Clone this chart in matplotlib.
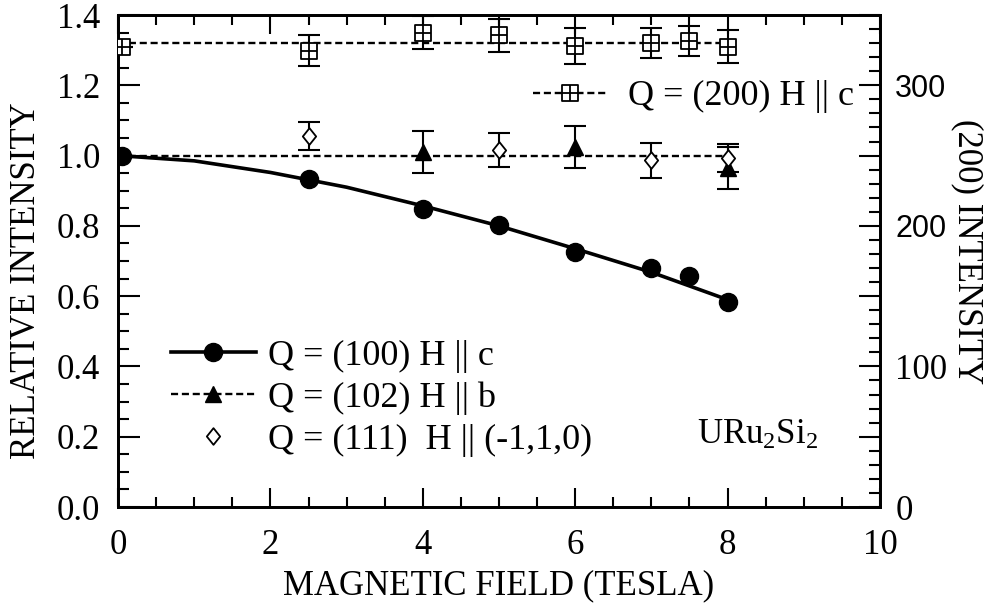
import matplotlib
matplotlib.use('Agg')
import matplotlib.pyplot as plt
from matplotlib.path import Path
from matplotlib.ticker import MultipleLocator, FuncFormatter
from matplotlib.lines import Line2D

plt.rcParams['font.family'] = ['Liberation Serif', 'DejaVu Serif']
plt.rcParams['mathtext.fontset'] = 'custom'
plt.rcParams['mathtext.rm'] = 'Liberation Serif'
plt.rcParams['mathtext.it'] = 'Liberation Serif:italic'

# ---------------- data ----------------
field_100 = [0.05, 2.5, 4, 5, 6, 7, 7.5, 8]
int_100 = [1.0, 0.932, 0.847, 0.802, 0.727, 0.679, 0.657, 0.584]
fit_100_x = [0, 1, 2, 3, 4, 5, 6, 7, 8]
fit_100_y = [1.0, 0.985, 0.952, 0.91, 0.857, 0.80, 0.735, 0.668, 0.59]

field_102 = [4, 6, 8]
int_102 = [1.011, 1.025, 0.965]
err_102 = [0.06, 0.06, 0.06]

field_111 = [2.5, 5, 7, 8]
int_111 = [1.056, 1.016, 0.987, 0.993]
err_111 = [0.04, 0.048, 0.05, 0.04]

flat_x = [0, 8]
flat_y = [1.0, 1.0]

field_200 = [0.05, 2.5, 4, 5, 6, 7, 7.5, 8]
int_200 = [327.5, 324.5, 337.5, 335.5, 328, 330, 331.5, 327.5]
err_200 = [0, 11, 11.5, 11.5, 12.5, 10.5, 11, 11.5]
flat200_y = [330, 330]

labels_main = ['Q = (100) H || c', 'Q = (102) H || b', 'Q = (111)  H || (-1,1,0)']
label_200 = 'Q = (200) H || c'

# ---------------- style ----------------
FS = 25
FSL = 26
DASH = (0, (3, 1.6))
DLW = 1.7
sq_cross = Path([(-1, -1), (1, -1), (1, 1), (-1, 1), (-1, -1),
                 (0, -1), (0, 1), (-1, 0), (1, 0)],
                [Path.MOVETO, Path.LINETO, Path.LINETO, Path.LINETO, Path.CLOSEPOLY,
                 Path.MOVETO, Path.LINETO, Path.MOVETO, Path.LINETO])
tall_diamond = Path([(0, -1), (0.8, 0), (0, 1), (-0.8, 0), (0, -1)],
                    [Path.MOVETO, Path.LINETO, Path.LINETO, Path.LINETO, Path.CLOSEPOLY])

fig = plt.figure(figsize=(10.01, 6.03), dpi=100)
ax = fig.add_axes([0.1179, 0.1592, 0.7612, 0.8159])
ax2 = ax.twinx()

# fit lines
ax.plot(fit_100_x, fit_100_y, color='k', lw=2.6, zorder=3)
ax.plot(flat_x, flat_y, color='k', lw=DLW, ls=DASH, zorder=2)
ax2.plot(flat_x, flat200_y, color='k', lw=DLW, ls=DASH, zorder=2)

# data
ax.plot(field_100, int_100, ls='none', marker='o', ms=13, color='k', zorder=4)
ax.errorbar(field_102, int_102, yerr=err_102, fmt='^', ms=11, color='k',
            ecolor='k', elinewidth=1.5, capsize=8, capthick=1.5, zorder=4)
ax.errorbar(field_111, int_111, yerr=err_111, fmt='none', ecolor='k',
            elinewidth=1.5, capsize=8, capthick=1.5, zorder=4)
ax.plot(field_111, int_111, ls='none', marker=tall_diamond, ms=12, mfc='white',
        mec='k', mew=1.3, zorder=5)
ax2.errorbar(field_200, int_200, yerr=err_200, fmt='none', ecolor='k',
             elinewidth=1.5, capsize=8, capthick=1.5, zorder=4)
ax2.plot(field_200, int_200, ls='none', marker=sq_cross, ms=11, mfc='white',
         mec='k', mew=1.3, zorder=5)

# axes limits / ticks
ax.set_xlim(0, 10)
ax.set_ylim(0, 1.4)
ax2.set_ylim(0, 350)

ax.xaxis.set_major_locator(MultipleLocator(2))
ax.xaxis.set_minor_locator(MultipleLocator(0.5))
ax.yaxis.set_major_locator(MultipleLocator(0.2))
ax.yaxis.set_minor_locator(MultipleLocator(0.05))
ax.yaxis.set_major_formatter(FuncFormatter(lambda v, p: f'{v:.1f}'))
ax2.yaxis.set_major_locator(MultipleLocator(50))
ax2.yaxis.set_minor_locator(MultipleLocator(10))
ax2.yaxis.set_major_formatter(FuncFormatter(lambda v, p: f'{int(round(v))}' if round(v) % 100 == 0 else ''))

ax.tick_params(axis='x', which='both', direction='in', top=True, bottom=True,
               labelsize=FS, pad=16, width=1.5)
ax.tick_params(axis='x', which='major', length=14)
ax.tick_params(axis='x', which='minor', length=7)
ax.tick_params(axis='y', which='both', direction='in', left=True, right=False,
               labelsize=FS, pad=13, width=1.5)
ax.tick_params(axis='y', which='major', length=16)
ax.tick_params(axis='y', which='minor', length=8)
ax2.tick_params(axis='y', which='both', direction='in', right=True, left=False,
                labelsize=FS, pad=11, width=1.5)
ax2.tick_params(axis='y', which='major', length=15)
ax2.tick_params(axis='y', which='minor', length=8)

for a in (ax, ax2):
    for s in a.spines.values():
        s.set_linewidth(2)

ax.set_xlabel('MAGNETIC FIELD (TESLA)', fontsize=FS, labelpad=5)
ax.set_ylabel('RELATIVE INTENSITY', fontsize=FS, labelpad=10, y=0.46)
ax2.set_ylabel('(200) INTENSITY', fontsize=FS, rotation=270, labelpad=26, y=0.52)

ax.text(7.6, 0.205, 'URu$_2$Si$_2$', fontsize=FS, va='center', ha='left')

# legends
h1 = Line2D([], [], color='k', lw=2.6, marker='o', ms=13)
h2 = Line2D([], [], color='k', lw=DLW, ls=DASH, marker='^', ms=11)
h3 = Line2D([], [], color='k', ls='none', marker=tall_diamond, ms=12, mfc='white', mew=1.3)
ax.legend([h1, h2, h3], labels_main, loc='center left',
          bbox_to_anchor=(0.069, 0.2215), frameon=False, fontsize=FSL,
          handlelength=2.37, handletextpad=0.32, labelspacing=0.24,
          borderpad=0, borderaxespad=0)
h4 = Line2D([], [], color='k', lw=DLW, ls=DASH, marker=sq_cross, ms=11,
            mfc='white', mew=1.3)
ax2.legend([h4], [label_200], loc='center left', bbox_to_anchor=(0.545, 0.834),
           frameon=False, fontsize=FSL, handlelength=2.05, handletextpad=0.58,
           borderpad=0, borderaxespad=0)

fig.canvas.draw()
for lab in ax2.get_yticklabels():
    if lab.get_text() in ('200', '300'):
        lab.set_fontfamily(['Liberation Sans', 'DejaVu Sans'])
        lab.set_fontsize(22)

fig.savefig('out.png', dpi=100)
